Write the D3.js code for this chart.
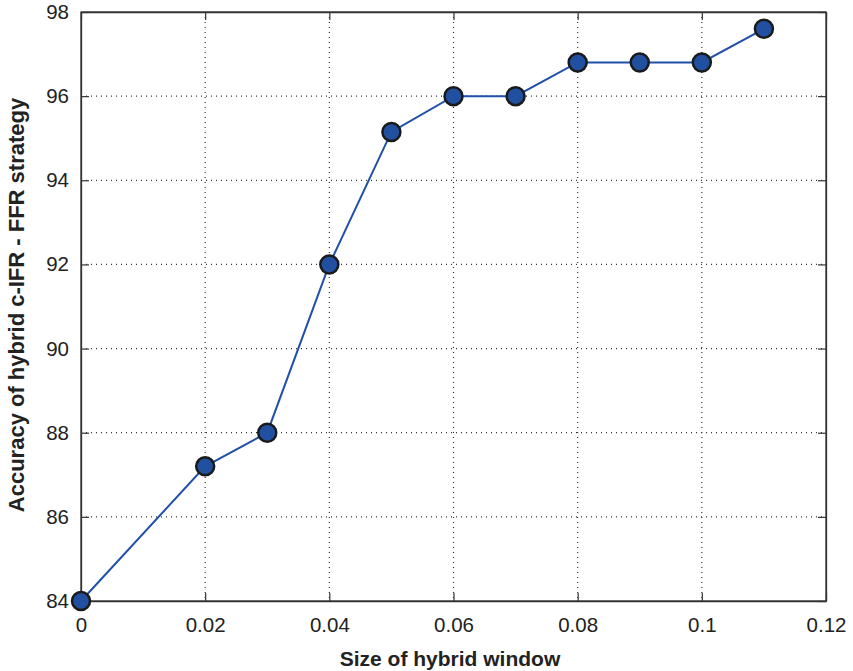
<!DOCTYPE html>
<html>
<head>
<meta charset="utf-8">
<script src="https://cdn.jsdelivr.net/npm/d3@7"></script>
<style>
body { margin: 0; background: #fff; }
text { font-family: "Liberation Sans", Arial, sans-serif; fill: #222; }
</style>
</head>
<body>
<svg width="853" height="671"></svg>
<script>
var windowSize = [0, 0.02, 0.03, 0.04, 0.05, 0.06, 0.07, 0.08, 0.09, 0.1, 0.11];
var accuracy = [84, 87.2, 88, 92, 95.15, 96, 96, 96.8, 96.8, 96.8, 97.6];
var xTicks = [0, 0.02, 0.04, 0.06, 0.08, 0.1, 0.12];
var yTicks = [84, 86, 88, 90, 92, 94, 96, 98];

var data = windowSize.map(function(x, i) { return {x: x, y: accuracy[i]}; });

var svg = d3.select("svg");
var mLeft = 81, mTop = 12, mRight = 826, mBottom = 601;
var width = mRight - mLeft, height = mBottom - mTop;

var xScale = d3.scaleLinear().domain([0, 0.12]).range([0, width]);
var yScale = d3.scaleLinear().domain([84, 98]).range([height, 0]);

var g = svg.append("g").attr("transform", "translate(" + mLeft + "," + mTop + ")");

// grid
g.append("g").selectAll("line")
  .data(xTicks.slice(1, -1))
  .enter().append("line")
  .attr("x1", d => xScale(d)).attr("x2", d => xScale(d))
  .attr("y1", 0).attr("y2", height)
  .style("stroke", "#333").style("stroke-width", 1.2)
  .style("stroke-dasharray", "1,4");

g.append("g").selectAll("line")
  .data(yTicks.slice(1, -1))
  .enter().append("line")
  .attr("y1", d => yScale(d)).attr("y2", d => yScale(d))
  .attr("x1", 0).attr("x2", width)
  .style("stroke", "#333").style("stroke-width", 1.2)
  .style("stroke-dasharray", "1,4");

// axes with inward ticks
var xAxis = g.append("g")
  .attr("transform", "translate(0," + height + ")")
  .call(d3.axisBottom(xScale).tickValues(xTicks).tickSizeInner(-8).tickSizeOuter(0).tickPadding(16)
    .tickFormat(d => d === 0 ? "0" : String(+d.toFixed(2))));
var yAxis = g.append("g")
  .call(d3.axisLeft(yScale).tickValues(yTicks).tickSizeInner(-8).tickSizeOuter(0).tickPadding(12));
g.append("g")
  .call(d3.axisTop(xScale).tickValues(xTicks).tickSizeInner(-8).tickSizeOuter(0).tickFormat(""));
g.append("g")
  .attr("transform", "translate(" + width + ",0)")
  .call(d3.axisRight(yScale).tickValues(yTicks).tickSizeInner(-8).tickSizeOuter(0).tickFormat(""));

g.selectAll(".domain").style("stroke", "#333").style("stroke-width", 1.3);
g.selectAll(".tick line").style("stroke", "#333").style("stroke-width", 1.2);
g.selectAll(".tick text").style("font-size", "20.5px").style("fill", "#222")
  .style("font-family", "'Liberation Sans', Arial, sans-serif");

// frame
g.append("rect")
  .attr("width", width).attr("height", height)
  .style("fill", "none").style("stroke", "#333").style("stroke-width", 1.3);

// line
var line = d3.line().x(d => xScale(d.x)).y(d => yScale(d.y));
g.append("path")
  .datum(data)
  .attr("d", line)
  .style("fill", "none")
  .style("stroke", "#2050a8")
  .style("stroke-width", 2);

g.selectAll(".pt")
  .data(data)
  .enter().append("circle")
  .attr("class", "pt")
  .attr("cx", d => xScale(d.x))
  .attr("cy", d => yScale(d.y))
  .attr("r", 9)
  .style("fill", "#2150a0")
  .style("stroke", "#1a1a1a")
  .style("stroke-width", 2.5);

// labels
svg.append("text")
  .attr("x", 450)
  .attr("y", 666)
  .attr("text-anchor", "middle")
  .style("font-size", "21px")
  .style("font-weight", "bold")
  .text("Size of hybrid window");

svg.append("text")
  .attr("transform", "translate(24,305) rotate(-90)")
  .attr("text-anchor", "middle")
  .style("font-size", "22px")
  .style("font-weight", "bold")
  .text("Accuracy of hybrid c-IFR - FFR strategy");
</script>
</body>
</html>
